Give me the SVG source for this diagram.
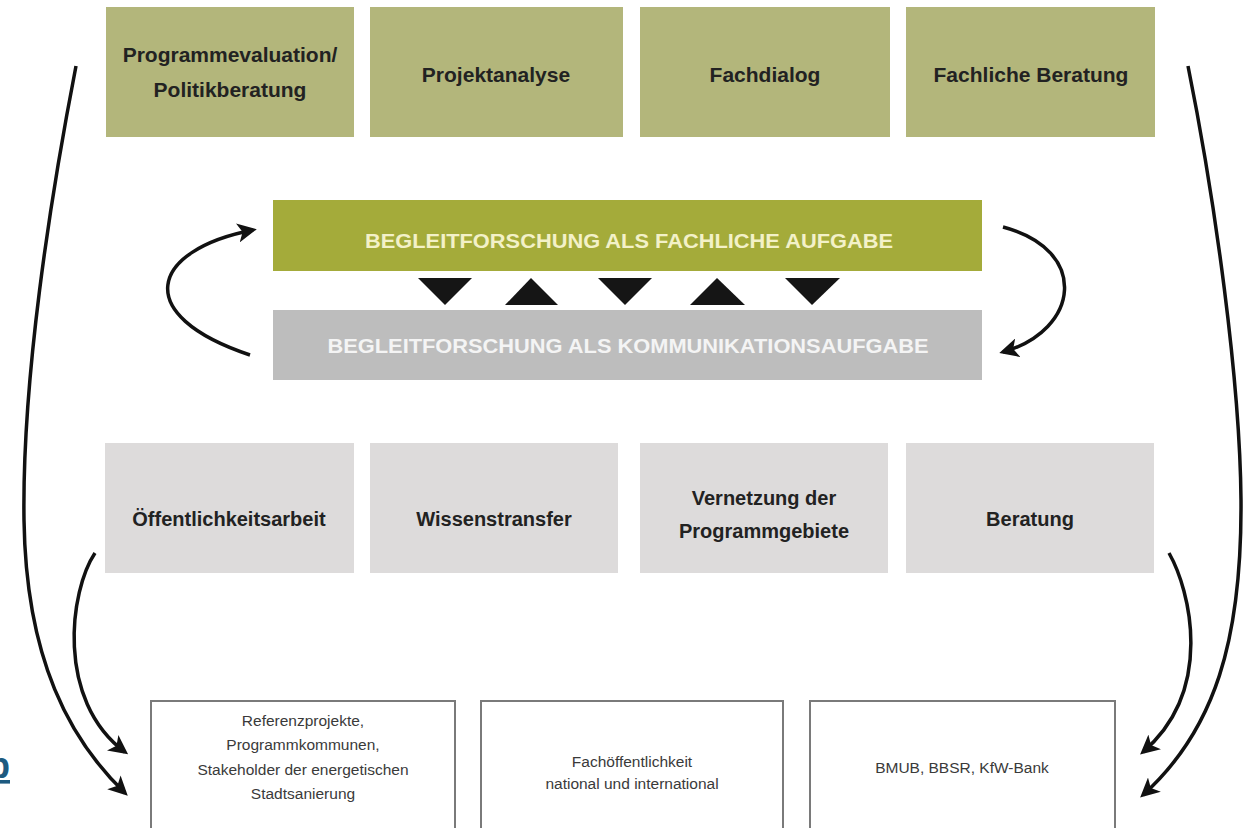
<svg xmlns="http://www.w3.org/2000/svg" width="1249" height="828" viewBox="0 0 1249 828">
<defs>
<style>
.top{fill:#b3b67b}
.gbox{fill:#dddbdb}
.wbox{fill:#fff;stroke:#7a7a7a;stroke-width:2}
.hd{font-family:"Liberation Sans",Arial,sans-serif;font-weight:bold;font-size:21px;fill:#222;text-anchor:middle}
.hd2{font-family:"Liberation Sans",Arial,sans-serif;font-weight:bold;font-size:20px;fill:#222;text-anchor:middle}
.bar{font-family:"Liberation Sans",Arial,sans-serif;font-weight:bold;font-size:21px;text-anchor:middle}
.sm{font-family:"Liberation Sans",Arial,sans-serif;font-size:15.5px;fill:#3a3a3a;text-anchor:middle}
.arr{fill:none;stroke:#111;stroke-width:3.5}
.tri{fill:#151515}
</style>
<marker id="ah" viewBox="0 0 10 10" refX="8" refY="5" markerWidth="5.5" markerHeight="5.5" orient="auto" markerUnits="strokeWidth">
<path d="M0,0 L10,5 L0,10 L2.5,5 z" fill="#111"/>
</marker>
</defs>
<rect width="1249" height="828" fill="#fff"/>

<g id="top1"><rect class="top" x="106" y="7" width="248" height="130"/><text class="hd" x="230" y="62">Programmevaluation/</text><text class="hd" x="230" y="97">Politikberatung</text></g>
<g id="top2"><rect class="top" x="370" y="7" width="253" height="130"/><text class="hd" x="496" y="82">Projektanalyse</text></g>
<g id="top3"><rect class="top" x="640" y="7" width="250" height="130"/><text class="hd" x="765" y="82">Fachdialog</text></g>
<g id="top4"><rect class="top" x="906" y="7" width="249" height="130"/><text class="hd" x="1031" y="82">Fachliche Beratung</text></g>

<g id="bar-fach"><rect x="273" y="200" width="709" height="71" fill="#a4ab3a"/><text class="bar" x="629" y="248" fill="#f3f1c8" textLength="528" lengthAdjust="spacingAndGlyphs">BEGLEITFORSCHUNG ALS FACHLICHE AUFGABE</text></g>
<g id="bar-komm"><rect x="273" y="310" width="709" height="70" fill="#bdbdbd"/><text class="bar" x="628" y="353" fill="#f4f4f4" textLength="601" lengthAdjust="spacingAndGlyphs">BEGLEITFORSCHUNG ALS KOMMUNIKATIONSAUFGABE</text></g>

<g id="triangles">
<polygon class="tri" points="418,278 472,278 445,305"/>
<polygon class="tri" points="505,305 558,305 531,278"/>
<polygon class="tri" points="598,278 652,278 625,305"/>
<polygon class="tri" points="690,305 745,305 717,278"/>
<polygon class="tri" points="785,278 840,278 812,305"/>
</g>

<g id="mid1"><rect class="gbox" x="105" y="443" width="249" height="130"/><text class="hd2" x="229" y="526">Öffentlichkeitsarbeit</text></g>
<g id="mid2"><rect class="gbox" x="370" y="443" width="248" height="130"/><text class="hd2" x="494" y="526">Wissenstransfer</text></g>
<g id="mid3"><rect class="gbox" x="640" y="443" width="248" height="130"/><text class="hd2" x="764" y="505">Vernetzung der</text><text class="hd2" x="764" y="538">Programmgebiete</text></g>
<g id="mid4"><rect class="gbox" x="906" y="443" width="248" height="130"/><text class="hd2" x="1030" y="526">Beratung</text></g>

<g id="bot1"><rect class="wbox" x="151" y="701" width="304" height="140"/><text class="sm" x="303" y="726">Referenzprojekte,</text><text class="sm" x="303" y="750">Programmkommunen,</text><text class="sm" x="303" y="775">Stakeholder der energetischen</text><text class="sm" x="303" y="799">Stadtsanierung</text></g>
<g id="bot2"><rect class="wbox" x="481" y="701" width="302" height="140"/><text class="sm" x="632" y="767">Fachöffentlichkeit</text><text class="sm" x="632" y="789">national und international</text></g>
<g id="bot3"><rect class="wbox" x="810" y="701" width="305" height="140"/><text class="sm" x="962" y="773">BMUB, BBSR, KfW-Bank</text></g>

<g id="connectors">
<path class="arr" marker-end="url(#ah)" d="M76,66 C50,200 22,380 24,520 C26,660 70,740 125,793"/>
<path class="arr" marker-end="url(#ah)" d="M95,553 C70,590 55,700 125,752"/>
<path class="arr" marker-end="url(#ah)" d="M1188,66 C1215,200 1240,380 1241,500 C1242,640 1215,730 1143,795"/>
<path class="arr" marker-end="url(#ah)" d="M1169,553 C1190,590 1215,690 1143,752"/>
<path class="arr" marker-end="url(#ah)" d="M250,355 C130,315 150,250 253,230"/>
<path class="arr" marker-end="url(#ah)" d="M1003,227 C1090,250 1080,330 1003,352"/>
</g>

<text x="-12" y="778" font-family="Liberation Sans,Arial,sans-serif" font-weight="bold" font-size="36" fill="#1d5a80" text-decoration="underline">p</text>
</svg>
